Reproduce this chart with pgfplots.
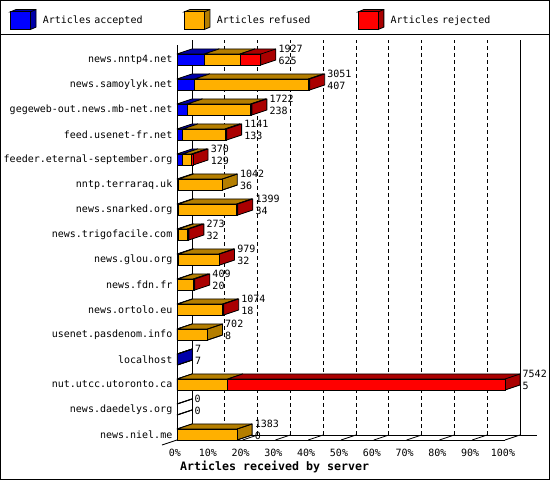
\documentclass[border=0pt]{standalone}
\usepackage{fontspec}
\setmainfont{DejaVu Sans Mono}
\usepackage{pgfplots}
\pgfplotsset{compat=1.18}
\usepackage{pgfplotstable}

\definecolor{fblue}{RGB}{0,0,255}
\definecolor{dblue}{RGB}{0,0,170}
\definecolor{forange}{RGB}{255,176,0}
\definecolor{dorange}{RGB}{180,126,0}
\definecolor{fred}{RGB}{255,0,0}
\definecolor{dred}{RGB}{170,0,0}

\pgfdeclareplotmark{empty}{}

\pgfplotstableread{
row total acc ref rej
16 1927 625 824 478
15 3051 407 2612 32
14 1722 238 1457 27
13 1141 133 971 37
12 370 129 209 32
11 1042 36 1006 0
10 1399 34 1339 26
9 273 32 205 36
8 979 32 934 13
7 409 20 355 34
6 1074 18 1032 24
5 702 8 694 0
4 7 7 0 0
3 7542 5 1161 6376
2 0 0 0 0
1 1383 0 1383 0
}\datatable

\newcommand\boxthreed[2]{%
  \pgfkeys{/pgf/fpu=true}%
  \pgfmathparse{\len*0.043490}%
  \pgfmathfloattofixed{\pgfmathresult}\let\W\pgfmathresult
  \pgfkeys{/pgf/fpu=false}%
  \ifdim\W pt>0.01pt
    \filldraw[fill=#2,draw=black,line width=0.8bp,line join=round] (0bp,5.5bp) -- (15bp,10.5bp) -- (\W bp+15bp,10.5bp) -- (\W bp+15bp,-0.5bp) -- (\W bp,-5.5bp) -- (\W bp,5.5bp) -- cycle;
    \draw[line width=0.8bp] (\W bp,5.5bp) -- ++(15bp,5bp);
    \filldraw[fill=#1,draw=black,line width=0.8bp] (0bp,-5.5bp) rectangle (\W bp,5.5bp);
  \else
    \draw[line width=0.8bp] (0bp,5.5bp) -- ++(15bp,5bp) (0bp,-5.5bp) -- ++(15bp,5bp);
  \fi
}
\newcommand\legcube[2]{%
  \filldraw[fill=#2,draw=black,line width=0.8bp] (0bp,8.8bp) -- (5.7bp,11.2bp) -- (25.7bp,11.2bp) -- (25.7bp,-6.4bp) -- (20bp,-8.8bp) -- (20bp,8.8bp) -- cycle;
  \draw[line width=0.8bp] (20bp,8.8bp) -- (25.7bp,11.2bp);
  \filldraw[fill=#1,draw=black,line width=0.8bp] (0bp,-8.8bp) rectangle (20bp,8.8bp);
  \path (32.3bp,0bp);
}
\newcommand\intnum[1]{\pgfmathprintnumber[fixed,precision=0,1000 sep={},assume math mode=true]{#1}}

\begin{document}
\begin{tikzpicture}
\begin{axis}[
  scale only axis, width=328bp, height=395bp,
  xmin=0, xmax=7542, ymin=0.78, ymax=16.58,
  enlargelimits=false, clip=false,
  axis x line*=bottom, axis y line*=left,
  axis line style={-, line width=0.8bp},
  xtick={0,754.2,1508.4,2262.6,3016.8,3771,4525.2,5279.4,6033.6,6787.8,7542},
  xticklabels={0\%,10\%,20\%,30\%,40\%,50\%,60\%,70\%,80\%,90\%,100\%},
  ytick={1,...,16},
  yticklabels={news.niel.me, news.daedelys.org, nut.utcc.utoronto.ca, localhost, usenet.pasdenom.info, news.ortolo.eu, news.fdn.fr, news.glou.org, news.trigofacile.com, news.snarked.org, nntp.terraraq.uk, feeder.eternal-september.org, feed.usenet-fr.net, gegeweb-out.news.mb-net.net, news.samoylyk.net, news.nntp4.net},
  xtick style={draw=none}, ytick style={draw=none},
  xmajorgrids,
  major x grid style={dash pattern=on 4bp off 3bp, line width=0.8bp, black, xshift=15bp, yshift=5bp},
  ticklabel style={font=\fontsize{10bp}{12bp}\selectfont, text=black},
  xticklabel style={anchor=center, inner sep=0pt, yshift=-13bp, xshift=-2bp},
  yticklabel style={anchor=east, inner sep=0pt, xshift=-4.5bp},
  xlabel={\bfseries Articles received by server},
  xlabel style={at={(rel axis cs:0,0)}, anchor=west, inner sep=0pt, xshift=3bp, yshift=-26.7bp, font=\fontsize{11.63bp}{13bp}\selectfont},
  legend columns=3,
  legend cell align=left,
  legend style={at={(rel axis cs:0,0)}, anchor=west, xshift=-167bp, yshift=420.5bp, draw=none, fill=none, inner sep=0pt, outer sep=0pt, row sep=0pt, column sep=0pt, font=\fontsize{10bp}{12bp}\selectfont, nodes={inner sep=0pt, text width=141bp}},
]
% frame and legend separator
\coordinate (F1) at ([xshift=-177bp,yshift=-40bp]rel axis cs:0,0);
\coordinate (F2) at ([xshift=373bp,yshift=440bp]rel axis cs:0,0);
\draw[line width=1bp] ([xshift=-176.5bp,yshift=-39.5bp]rel axis cs:0,0) rectangle ([xshift=372.5bp,yshift=439.5bp]rel axis cs:0,0);
\draw[line width=1bp] ([xshift=-177bp,yshift=405bp]rel axis cs:0,0) -- ([xshift=373bp,yshift=405bp]rel axis cs:0,0);
% 3D walls and floor
\draw[line width=0.8bp] ([xshift=15bp,yshift=5bp]rel axis cs:0,0) -- ([xshift=15bp,yshift=5bp]rel axis cs:0,1);
\draw[line width=0.8bp] ([xshift=15bp,yshift=5bp]rel axis cs:1,0) -- ([xshift=15bp,yshift=5bp]rel axis cs:1,1);
\draw[line width=0.8bp] ([xshift=15bp,yshift=5bp]rel axis cs:0,0) -- ([xshift=32bp,yshift=5bp]rel axis cs:1,0);
\draw[line width=0.8bp] ([xshift=-15bp,yshift=-5bp]rel axis cs:0,0) -- ([xshift=15bp,yshift=5bp]rel axis cs:0,0);
\pgfplotsinvokeforeach{0.1,0.2,0.3,0.4,0.5,0.6,0.7,0.8,0.9,1}{
  \draw[line width=0.8bp] (rel axis cs:#1,0) -- ++(15bp,5bp);
}
% bars
\addplot[scatter, only marks, mark=empty,
  visualization depends on={\thisrow{acc} \as \len},
  scatter/@pre marker code/.code={\boxthreed{fblue}{dblue}},
  scatter/@post marker code/.code={},
  legend image code/.code={\legcube{fblue}{dblue}}]
  table[x expr=0, y=row] {\datatable};
\addlegendentry{Articles accepted}
\addplot[scatter, only marks, mark=empty,
  visualization depends on={\thisrow{ref} \as \len},
  scatter/@pre marker code/.code={\boxthreed{forange}{dorange}},
  scatter/@post marker code/.code={},
  legend image code/.code={\legcube{forange}{dorange}}]
  table[x=acc, y=row] {\datatable};
\addlegendentry{Articles refused}
\addplot[scatter, only marks, mark=empty,
  visualization depends on={\thisrow{rej} \as \len},
  scatter/@pre marker code/.code={\boxthreed{fred}{dred}},
  scatter/@post marker code/.code={},
  legend image code/.code={\legcube{fred}{dred}}]
  table[x expr=\thisrow{acc}+\thisrow{ref}, y=row] {\datatable};
\addlegendentry{Articles rejected}
% value labels
\addplot[forget plot, only marks, mark=empty,
  visualization depends on={\thisrow{acc} \as \accv},
  visualization depends on={\thisrow{total} \as \totv},
  nodes near coords={\intnum{\totv}\\\intnum{\accv}},
  nodes near coords style={anchor=west, inner sep=0pt, xshift=17.5bp, yshift=4.5bp, align=left, font=\fontsize{10bp}{12bp}\selectfont, text=black}]
  table[x=total, y=row] {\datatable};
\end{axis}
\pgfresetboundingbox
\useasboundingbox (F1) rectangle (F2);
\end{tikzpicture}
\end{document}
